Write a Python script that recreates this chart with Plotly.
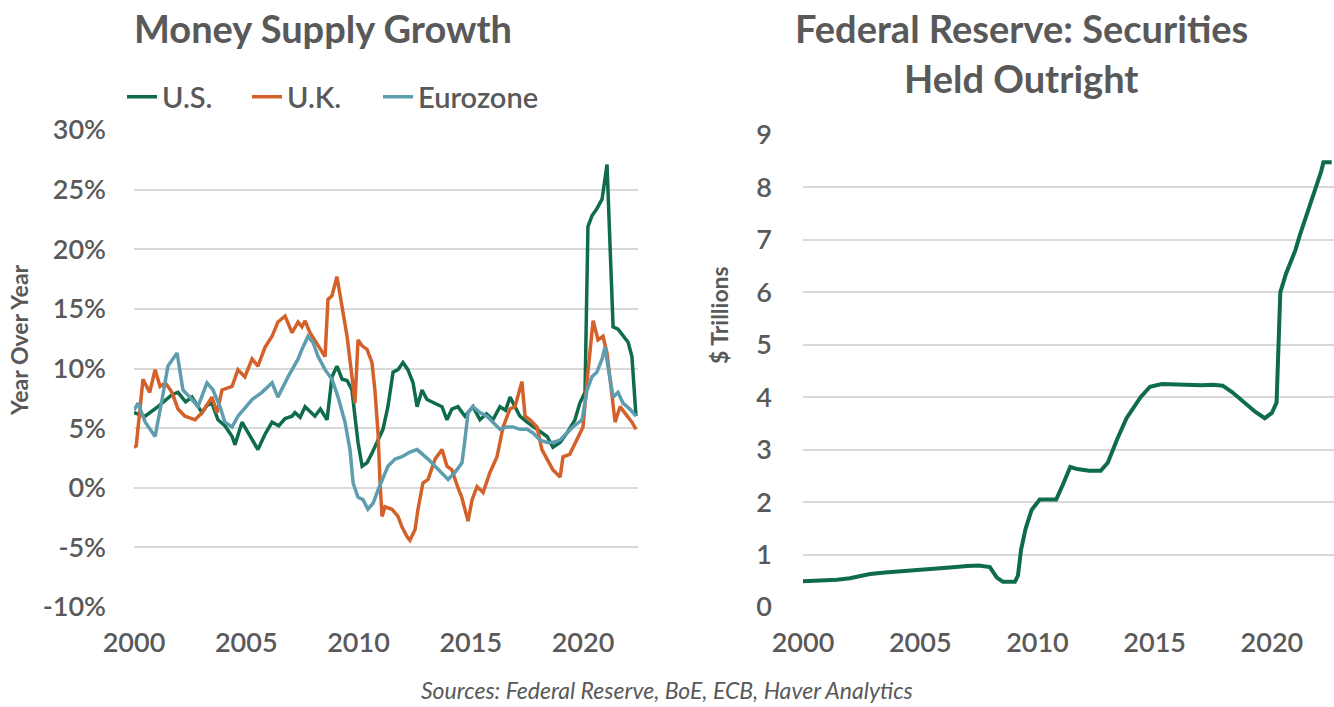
import plotly.graph_objects as go

# ---------------- Data: Money Supply Growth (YoY %) ----------------
us_t = [2000.0, 2000.49, 2001.07, 2001.69, 2001.96, 2002.3, 2002.58, 2003.03, 2003.25, 2003.47, 2003.74,
        2004.05, 2004.37, 2004.5, 2004.81, 2005.26, 2005.52, 2005.84, 2006.15, 2006.45, 2006.73, 2007.04,
        2007.17, 2007.4, 2007.62, 2008.06, 2008.3, 2008.6, 2008.82, 2009.04, 2009.27, 2009.49, 2009.71,
        2009.84, 2009.98, 2010.16, 2010.38, 2010.6, 2010.87, 2011.09, 2011.31, 2011.54, 2011.76, 2011.98,
        2012.2, 2012.43, 2012.61, 2012.83, 2013.05, 2013.41, 2013.72, 2013.94, 2014.16, 2014.43, 2014.74,
        2015.1, 2015.41, 2015.7, 2015.99, 2016.3, 2016.55, 2016.75, 2016.97, 2017.19, 2017.51, 2017.95,
        2018.4, 2018.66, 2018.98, 2019.29, 2019.64, 2019.86, 2020.09, 2020.22, 2020.4, 2020.62, 2020.85,
        2021.07, 2021.34, 2021.56, 2021.78, 2022.01, 2022.18, 2022.31, 2022.36]
us_v = [6.3, 6.0, 6.8, 7.8, 8.0, 7.2, 7.6, 6.3, 6.9, 7.1, 5.7,
        5.2, 4.3, 3.6, 5.5, 4.0, 3.2, 4.5, 5.5, 5.2, 5.8, 6.0,
        6.3, 5.9, 6.8, 6.0, 6.6, 5.7, 9.3, 10.2, 9.1, 9.0, 8.2,
        6.0, 3.8, 1.8, 2.1, 2.9, 4.0, 4.9, 6.8, 9.7, 9.9, 10.5,
        9.9, 8.8, 6.8, 8.2, 7.4, 7.1, 6.8, 5.7, 6.6, 6.8, 6.0,
        6.8, 5.7, 6.2, 5.7, 6.8, 6.5, 7.6, 6.8, 6.0, 5.5, 4.9,
        4.3, 3.4, 3.8, 4.6, 5.7, 7.1, 8.0, 21.9, 22.8, 23.4, 24.2,
        27.1, 13.5, 13.3, 12.7, 12.2, 11.0, 6.8, 6.0]

uk_t = [2000.0, 2000.1, 2000.4, 2000.7, 2000.94, 2001.16, 2001.4, 2001.69, 2001.96, 2002.27, 2002.72,
        2003.03, 2003.47, 2003.7, 2003.92, 2004.37, 2004.63, 2004.94, 2005.26, 2005.52, 2005.84, 2006.15,
        2006.41, 2006.73, 2007.04, 2007.31, 2007.48, 2007.62, 2007.84, 2008.2, 2008.51, 2008.64, 2008.82,
        2009.04, 2009.27, 2009.49, 2009.71, 2009.84, 2009.98, 2010.16, 2010.38, 2010.6, 2010.73, 2010.87,
        2010.96, 2011.05, 2011.18, 2011.49, 2011.76, 2011.94, 2012.16, 2012.29, 2012.52, 2012.65, 2012.87,
        2013.1, 2013.41, 2013.72, 2013.94, 2014.16, 2014.43, 2014.6, 2014.88, 2015.06, 2015.28, 2015.55,
        2015.86, 2016.17, 2016.44, 2016.75, 2016.97, 2017.28, 2017.42, 2017.64, 2017.95, 2018.17, 2018.4,
        2018.66, 2018.98, 2019.11, 2019.41, 2019.73, 2020.0, 2020.22, 2020.45, 2020.67, 2020.89, 2021.07,
        2021.2, 2021.43, 2021.65, 2021.96, 2022.18, 2022.36]
uk_v = [3.4, 3.5, 9.1, 8.0, 9.9, 8.5, 8.8, 8.0, 6.6, 6.0, 5.7,
        6.3, 7.6, 6.3, 8.2, 8.5, 9.9, 9.3, 10.8, 10.2, 11.8, 12.7,
        13.9, 14.4, 13.0, 13.9, 13.5, 14.0, 13.0, 11.9, 11.0, 15.8, 16.1,
        17.7, 15.0, 12.7, 9.3, 7.1, 12.4, 11.9, 11.6, 10.5, 8.2, 4.6,
        0.4, -2.4, -1.6, -1.8, -2.4, -3.3, -4.1, -4.4, -3.5, -1.8, 0.4,
        0.7, 2.4, 3.2, 1.8, 1.5, 0.0, -0.8, -2.8, -1.0, 0.1, -0.4,
        1.3, 2.6, 5.1, 6.6, 6.8, 8.9, 6.0, 5.7, 5.1, 3.2, 2.4,
        1.5, 0.9, 2.6, 2.8, 4.0, 5.1, 9.7, 14.0, 12.4, 12.7, 11.3,
        9.1, 5.5, 6.8, 6.0, 5.5, 4.9]

ez_t = [2000.0, 2000.18, 2000.5, 2000.94, 2001.25, 2001.51, 2001.92, 2002.18, 2002.58, 2002.85, 2003.25,
        2003.52, 2003.83, 2004.05, 2004.37, 2004.63, 2005.26, 2005.7, 2006.15, 2006.41, 2006.86, 2007.31,
        2007.48, 2007.75, 2007.97, 2008.2, 2008.51, 2008.82, 2009.09, 2009.4, 2009.62, 2009.76, 2009.98,
        2010.2, 2010.42, 2010.65, 2010.87, 2011.31, 2011.63, 2011.94, 2012.29, 2012.61, 2013.1, 2013.41,
        2013.72, 2013.99, 2014.3, 2014.61, 2014.74, 2014.88, 2015.1, 2015.41, 2015.72, 2015.99, 2016.3,
        2016.61, 2016.88, 2017.19, 2017.51, 2017.77, 2018.08, 2018.4, 2018.66, 2018.98, 2019.29, 2019.55,
        2019.96, 2020.18, 2020.4, 2020.62, 2020.85, 2020.98, 2021.11, 2021.34, 2021.56, 2021.78, 2022.09,
        2022.36]
ez_v = [6.5, 7.1, 5.5, 4.3, 7.4, 10.2, 11.3, 8.2, 7.4, 6.8, 8.8,
        8.2, 6.8, 5.5, 5.1, 6.0, 7.4, 8.0, 8.8, 7.6, 9.3, 10.8,
        11.6, 12.7, 12.2, 11.0, 9.9, 9.1, 7.6, 5.5, 3.2, 0.4, -0.8,
        -1.0, -1.8, -1.3, -0.2, 1.8, 2.4, 2.6, 3.0, 3.2, 2.4, 1.8,
        1.3, 0.7, 1.3, 2.1, 4.0, 6.3, 6.8, 6.3, 6.0, 5.5, 4.9,
        5.1, 5.1, 4.9, 4.9, 4.6, 4.0, 3.8, 3.8, 4.0, 4.6, 5.1,
        5.7, 8.2, 9.3, 9.7, 10.8, 11.8, 10.2, 7.6, 8.0, 7.1, 6.6,
        6.0]

# ---------------- Data: Fed securities held outright ($ trillions) ----------------
fed_t = [2000.0, 2001.0, 2001.45, 2002.0, 2002.86, 2003.5, 2004.0, 2004.7, 2005.5, 2006.4, 2007.0,
         2007.5, 2007.97, 2008.27, 2008.53, 2009.04, 2009.17, 2009.3, 2009.5, 2009.75, 2010.1, 2010.5,
         2010.8, 2011.1, 2011.4, 2011.7, 2012.2, 2012.7, 2013.0, 2013.4, 2013.8, 2014.4, 2014.8,
         2015.3, 2016.0, 2016.5, 2017.0, 2017.5, 2017.9, 2018.3, 2018.8, 2019.3, 2019.7, 2020.0,
         2020.2, 2020.28, 2020.36, 2020.6, 2021.0, 2021.2, 2021.5, 2021.9, 2022.1, 2022.2, 2022.55]
fed_v = [0.49, 0.50, 0.52, 0.55, 0.63, 0.66, 0.68, 0.71, 0.73, 0.76, 0.78,
         0.79, 0.76, 0.56, 0.48, 0.48, 0.60, 1.09, 1.50, 1.85, 2.05, 2.06,
         2.05, 2.35, 2.67, 2.63, 2.60, 2.60, 2.75, 3.20, 3.60, 4.00, 4.20,
         4.25, 4.24, 4.22, 4.23, 4.24, 4.22, 4.10, 3.90, 3.72, 3.60, 3.70,
         3.90, 4.80, 6.00, 6.35, 6.80, 7.10, 7.50, 8.00, 8.30, 8.48, 8.48]

x_ticks = [2000, 2005, 2010, 2015, 2020]
y1_ticks = [-10, -5, 0, 5, 10, 15, 20, 25, 30]
y1_labels = ["-10%", "-5%", "0%", "5%", "10%", "15%", "20%", "25%", "30%"]
y2_ticks = [0, 1, 2, 3, 4, 5, 6, 7, 8, 9]

GREEN = "#0E6B4B"
ORANGE = "#D4602A"
TEAL = "#5E9DAF"
TXT = "#595959"
GRID = "#D9D9D9"
FONT = "Lato, 'Open Sans', sans-serif"

W, H = 1334, 707

fig = go.Figure()
fig.add_trace(go.Scatter(x=us_t, y=us_v, mode="lines", name="U.S.", legend="legend",
                         line=dict(color=GREEN, width=3.5), xaxis="x", yaxis="y"))
fig.add_trace(go.Scatter(x=uk_t, y=uk_v, mode="lines", name="U.K.", legend="legend2",
                         line=dict(color=ORANGE, width=3.5), xaxis="x", yaxis="y"))
fig.add_trace(go.Scatter(x=ez_t, y=ez_v, mode="lines", name="Eurozone", legend="legend3",
                         line=dict(color=TEAL, width=3.5), xaxis="x", yaxis="y"))
fig.add_trace(go.Scatter(x=fed_t, y=fed_v, mode="lines", name="Fed", showlegend=False,
                         line=dict(color=GREEN, width=4), xaxis="x2", yaxis="y2"))

tick_font = dict(family=FONT, size=27, color=TXT, weight=600)
axis_common = dict(showline=False, zeroline=False, ticks="", automargin=False, tickfont=tick_font)


def legend_at(px):
    return dict(orientation="h", x=px / W, xanchor="left", y=1 - 97 / H, yanchor="middle",
                font=dict(family=FONT, size=29, color=TXT, weight=600), bgcolor="rgba(0,0,0,0)",
                itemwidth=30, tracegroupgap=0)


fig.update_layout(
    width=W, height=H,
    autosize=False,
    margin=dict(l=0, r=0, t=0, b=0, pad=0, autoexpand=False),
    paper_bgcolor="white", plot_bgcolor="white",
    font=dict(family=FONT, color=TXT),
    xaxis=dict(domain=[134 / W, 638 / W], range=[2000, 2022.45], tickvals=x_ticks,
               showgrid=False, ticklabelstandoff=17, anchor="y", **axis_common),
    yaxis=dict(domain=[1 - 607 / H, 1 - 130 / H], range=[-10, 30], tickvals=y1_ticks,
               ticktext=y1_labels, showgrid=True, gridcolor=GRID, gridwidth=1.5,
               ticklabelstandoff=27, anchor="x", **axis_common),
    xaxis2=dict(domain=[803 / W, 1.0], range=[2000, 2022.65], tickvals=x_ticks,
                showgrid=False, ticklabelstandoff=17, anchor="y2", **axis_common),
    yaxis2=dict(domain=[1 - 607 / H, 1 - 135 / H], range=[0, 9], tickvals=y2_ticks,
                showgrid=True, gridcolor=GRID, gridwidth=1.5,
                ticklabelstandoff=30, anchor="x2", **axis_common),
    legend=legend_at(122),
    legend2=legend_at(247),
    legend3=legend_at(378),
    showlegend=True,
)

title_font = dict(size=38, color=TXT, family=FONT)
annotations = [
    dict(text="<b>Money Supply Growth</b>", x=323 / W, y=1 - 28 / H, font=title_font),
    dict(text="<b>Federal Reserve: Securities</b>", x=1021 / W, y=1 - 28 / H, font=title_font),
    dict(text="<b>Held Outright</b>", x=1021 / W, y=1 - 78 / H, font=title_font),
    dict(text="<b>Year Over Year</b>", x=19 / W, y=1 - 340 / H, textangle=-90,
         font=dict(size=23, color=TXT, family=FONT)),
    dict(text="<b>$ Trillions</b>", x=719 / W, y=1 - 315 / H, textangle=-90,
         font=dict(size=23, color=TXT, family=FONT)),
    dict(text="<i>Sources: Federal Reserve, BoE, ECB, Haver Analytics</i>", x=667 / W, y=1 - 690 / H,
         font=dict(size=23, color=TXT, family=FONT)),
]
for a in annotations:
    a.update(xref="paper", yref="paper", showarrow=False, xanchor="center", yanchor="middle")
fig.update_layout(annotations=annotations)

fig.write_html(
    "out.html",
    config={"responsive": False, "displayModeBar": False},
    post_script="document.body.style.margin='0';document.body.style.overflow='hidden';",
)
